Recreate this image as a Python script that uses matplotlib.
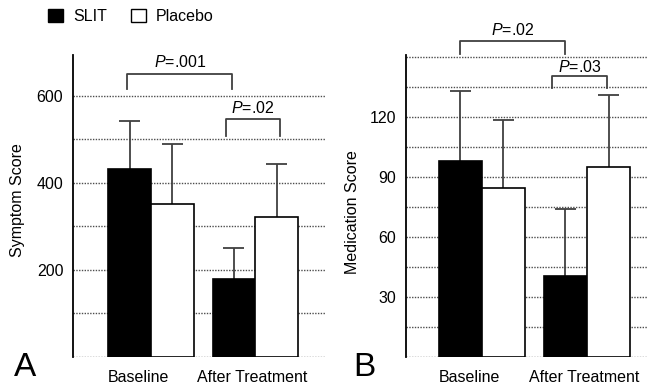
import numpy as np
import matplotlib
matplotlib.use("Agg")
import matplotlib.pyplot as plt
from matplotlib.patches import Patch

plt.rcParams['font.family'] = ['Liberation Sans', 'DejaVu Sans']
plt.rcParams['mathtext.fontset'] = 'custom'
plt.rcParams['mathtext.it'] = 'Liberation Sans:italic'
plt.rcParams['mathtext.rm'] = 'Liberation Sans'

# data
groups = ['Baseline', 'After Treatment']
symptom_slit = [432, 179]
symptom_slit_err = [110, 71]
symptom_placebo = [352, 322]
symptom_placebo_err = [138, 122]

med_slit = [98, 40.5]
med_slit_err = [35, 33.5]
med_placebo = [84.5, 95]
med_placebo_err = [34, 36]

x = np.arange(len(groups))
w = 0.41
FS = 11.5


def upper_err(ax, xs, vals, errs, cap):
    vals = np.asarray(vals)
    tops = vals + np.asarray(errs)
    ax.vlines(xs, vals, tops, color='0.25', lw=1.3, zorder=1)
    ax.hlines(tops, xs - cap, xs + cap, color='0.25', lw=1.3, zorder=1)


def panel(ax, slit, slit_err, plac, plac_err, ymax, grid_step, ticks, ylabel,
          brackets, xlim):
    ax.set_xlim(*xlim)
    ax.set_ylim(0, ymax)
    for g in np.arange(0, ymax, grid_step):
        ax.axhline(g, color='0.3', lw=1.0, ls=(0, (1, 1)), zorder=0)
    ax.bar(x - w / 2, slit, w, color='black', edgecolor='black', lw=1.2, zorder=2)
    ax.bar(x + w / 2, plac, w, color='white', edgecolor='black', lw=1.2, zorder=2)
    upper_err(ax, x - w / 2, slit, slit_err, 0.1)
    upper_err(ax, x + w / 2, plac, plac_err, 0.1)

    for s in ['top', 'right', 'bottom']:
        ax.spines[s].set_visible(False)
    ax.spines['left'].set_linewidth(1.3)
    ax.set_yticks(ticks)
    ax.tick_params(axis='y', length=0, pad=7, labelsize=FS)
    ax.set_xticks([x[0] - 0.12, x[1] - 0.03])
    ax.set_xticklabels(groups, fontsize=FS)
    ax.tick_params(axis='x', length=0, pad=9)
    ax.set_ylabel(ylabel, fontsize=FS)

    for (x0, x1, ytop, ybot, ytxt, lab) in brackets:
        ax.plot([x0, x0, x1, x1], [ybot, ytop, ytop, ybot], color='0.25', lw=1.3,
                clip_on=False)
        ax.text((x0 + x1) / 2, ytxt, r'$\it{P}$=' + lab, ha='center', va='center',
                fontsize=FS, clip_on=False)


fig = plt.figure(figsize=(6.47, 3.84), dpi=100)
axA = fig.add_axes([73 / 647, 27 / 384, 252 / 647, 302 / 384])
axB = fig.add_axes([406 / 647, 27 / 384, 241 / 647, 302 / 384])

panel(axA, symptom_slit, symptom_slit_err, symptom_placebo, symptom_placebo_err,
      694, 100, [200, 400, 600], 'Symptom Score',
      [(-0.23, 0.78, 651, 616, 678, '.001'), (0.72, 1.24, 547, 508, 572, '.02')],
      (-0.75, 1.67))
panel(axB, med_slit, med_slit_err, med_placebo, med_placebo_err,
      151, 15, [30, 60, 90, 120], 'Medication Score',
      [(-0.21, 0.79, 158, 151.5, 163.5, '.02'), (0.67, 1.19, 140.5, 134.5, 145, '.03')],
      (-0.72, 1.57))
axA.yaxis.set_label_coords(-0.19, 0.52)
axB.yaxis.set_label_coords(-0.19, 0.48)

fig.text(25 / 647, 0.003, 'A', fontsize=24, ha='center', va='bottom')
fig.text(364 / 647, 0.003, 'B', fontsize=24, ha='center', va='bottom')

handles = [Patch(facecolor='black', edgecolor='black'),
           Patch(facecolor='white', edgecolor='black')]
fig.legend(handles, ['SLIT', 'Placebo'], loc='upper left', bbox_to_anchor=(0.052, 1.015),
           ncol=2, frameon=False, fontsize=FS, handlelength=0.95, handleheight=0.95,
           columnspacing=1.5, handletextpad=0.6)

fig.savefig('out.png', dpi=100)
